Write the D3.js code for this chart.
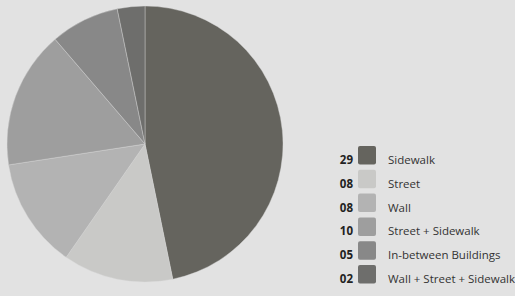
<!DOCTYPE html>
<html>
<head>
<meta charset="utf-8">
<script src="https://cdn.jsdelivr.net/npm/d3@7"></script>
<style>
  body { margin: 0; background: #e2e2e2; }
  svg { display: block; }
</style>
</head>
<body>
<svg id="chart" width="515" height="296"></svg>
<script>
let categories = ["Sidewalk", "Street", "Wall", "Street + Sidewalk", "In-between Buildings", "Wall + Street + Sidewalk"];
let counts = [29, 8, 8, 10, 5, 2];
let count_labels = ["29", "08", "08", "10", "05", "02"];
let colors = ["#65645e", "#c9c9c7", "#b3b3b3", "#9e9e9e", "#888888", "#6e6e6c"];

let width = 515, height = 296;
let cx = 145, cy = 144, radius = 138;
let font_family = "'Open Sans', sans-serif";

let svg = d3.select("#chart");

let pie = d3.pie().sort(null).value(d => d.value);
let arc = d3.arc().innerRadius(0).outerRadius(radius);

let data = categories.map((c, i) => ({ name: c, value: counts[i], label: count_labels[i], color: colors[i] }));

let g = svg.append("g")
  .attr("transform", `translate(${cx}, ${cy})`);

g.selectAll(".slice")
  .data(pie(data))
  .enter()
  .append("path")
  .attr("class", "slice")
  .attr("d", arc)
  .attr("fill", d => d.data.color)
  .attr("stroke", "#d8d8d8")
  .attr("stroke-width", 0.4);

// legend
let rowY = d3.scaleBand()
  .domain(categories)
  .range([146, 146 + 23.8 * categories.length])
  .paddingInner(0);

let legend = svg.append("g").attr("class", "legend");

let row = legend.selectAll(".legend_row")
  .data(data)
  .enter()
  .append("g")
  .attr("class", "legend_row")
  .attr("transform", d => `translate(0, ${rowY(d.name)})`);

row.append("rect")
  .attr("x", 358)
  .attr("y", 0)
  .attr("width", 18)
  .attr("height", 18.5)
  .attr("rx", 2)
  .attr("fill", d => d.color);

row.append("text")
  .attr("x", 353)
  .attr("y", 18)
  .attr("text-anchor", "end")
  .style("font-family", font_family)
  .style("font-weight", "bold")
  .style("font-size", "11.5px")
  .style("fill", "#222")
  .text(d => d.label);

row.append("text")
  .attr("x", 388)
  .attr("y", 18)
  .style("font-family", font_family)
  .style("font-size", "11.5px")
  .style("fill", "#333")
  .text(d => d.name);
</script>
</body>
</html>
